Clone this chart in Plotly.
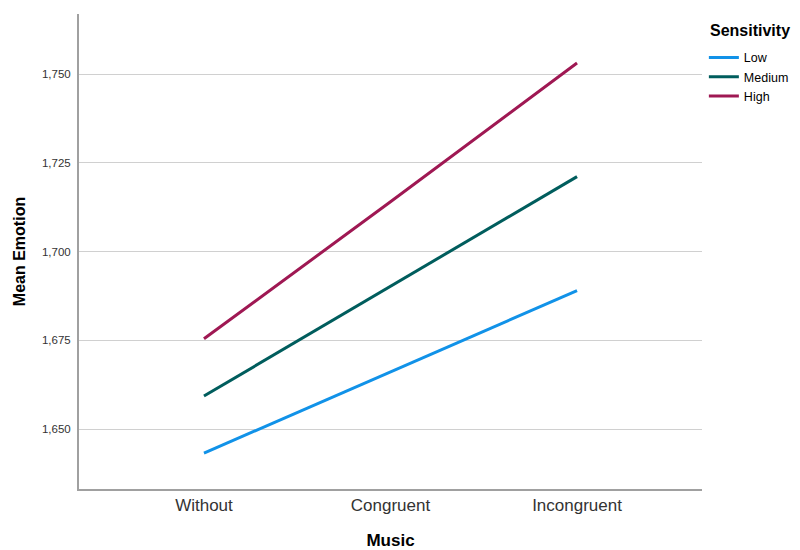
import plotly.graph_objects as go

music = ["Without", "Congruent", "Incongruent"]
low = [1.6432, 1.6662, 1.6890]
medium = [1.6593, 1.6901, 1.7211]
high = [1.6754, 1.7140, 1.7531]
series_names = ["Low", "Medium", "High"]
colors = ["#1192e8", "#005d5d", "#9f1853"]
y_ticks = [1.650, 1.675, 1.700, 1.725, 1.750]

fig = go.Figure()
for name, vals, c in zip(series_names, [low, medium, high], colors):
    fig.add_trace(go.Scatter(x=list(range(len(music))), y=vals, mode="lines", name=name,
                             line=dict(color=c, width=3)))

fig.update_layout(
    width=800, height=550,
    paper_bgcolor="white", plot_bgcolor="white",
    margin=dict(l=71, r=106, t=6, b=69, autoexpand=False),
    separators=",.",
    font=dict(family="Liberation Sans, Arial, sans-serif", color="#000000"),
    legend=dict(
        font=dict(size=12.5),
        x=1.003, xanchor="left", y=0.939, yanchor="top",
        itemwidth=30, tracegroupgap=0,
    ),
    xaxis=dict(
        range=[-0.67, 2.67],
        tickmode="array", tickvals=list(range(len(music))), ticktext=music,
        tickfont=dict(size=17, color="#333333"),
        showgrid=False, zeroline=False,
        showline=True, linecolor="#a0a0a0", linewidth=2,
        ticks="", automargin=False,
        title=dict(text="<b>Music</b>", font=dict(size=17), standoff=20),
    ),
    yaxis=dict(
        range=[1.6331, 1.7669],
        tickmode="array", tickvals=y_ticks, tickformat=".3f",
        tickfont=dict(size=11.5, color="#333333"),
        ticklabelstandoff=4,
        showgrid=True, gridcolor="#d0d0d0", gridwidth=1,
        zeroline=False, showline=True, linecolor="#a0a0a0", linewidth=2,
        ticks="", automargin=False,
        title=dict(text="<b>Mean Emotion</b>", font=dict(size=16), standoff=12),
    ),
    annotations=[dict(
        text="<b>Sensitivity</b>", xref="paper", yref="paper",
        x=1.0096, y=0.966, xanchor="left", yanchor="middle",
        showarrow=False, font=dict(size=16, color="#000000"),
    )],
)

fig.write_html("out.html")
